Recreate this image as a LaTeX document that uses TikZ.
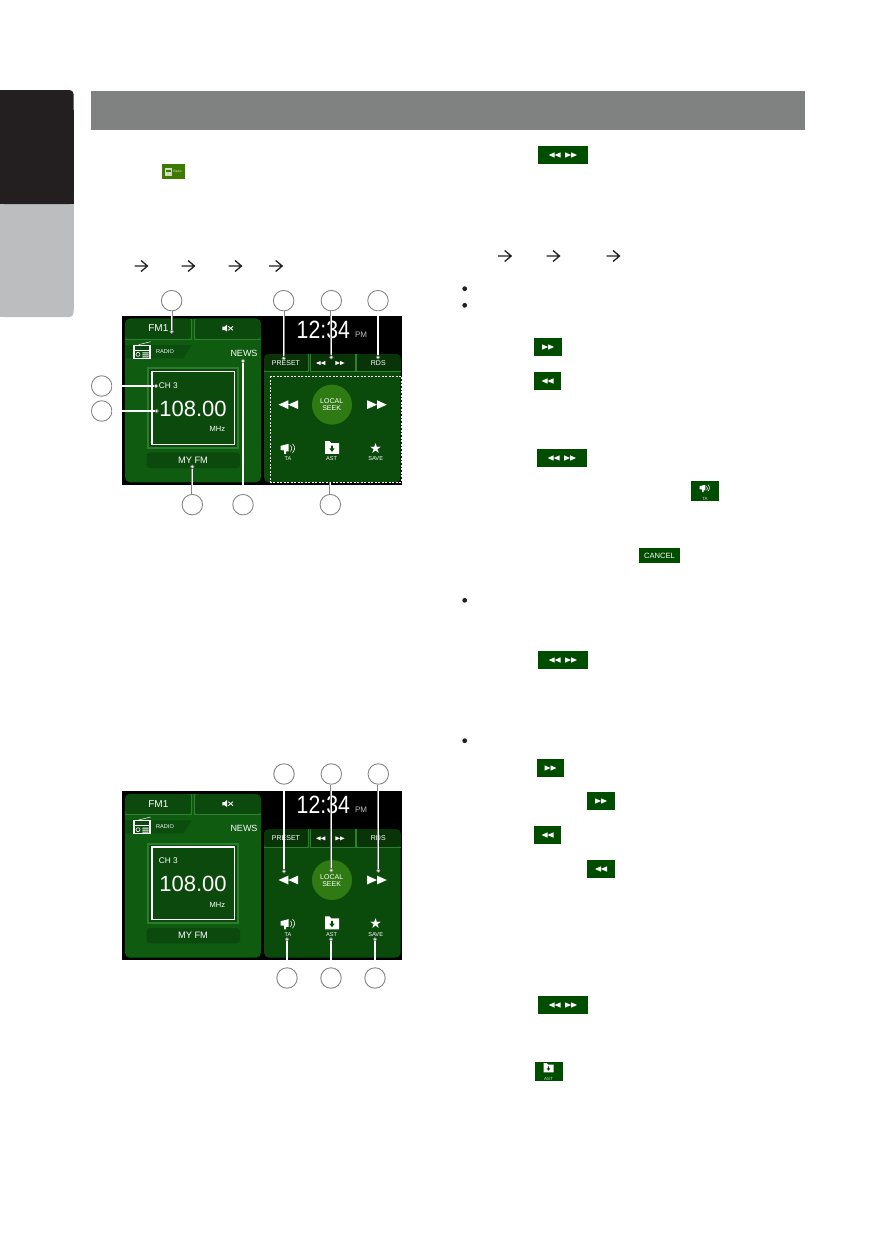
\documentclass[tikz,border=0pt]{standalone}
\usepackage{fontspec}
\setmainfont{Liberation Sans}
\usetikzlibrary{calc}
\definecolor{tabblack}{HTML}{231F20}
\definecolor{tabgray}{HTML}{BCBDBF}
\definecolor{headgray}{HTML}{808282}
\definecolor{panelL}{HTML}{0F5C10}
\definecolor{panelR}{HTML}{0A4A0B}
\definecolor{tabdark}{HTML}{0B4A0C}
\definecolor{barline}{HTML}{2E7F30}
\definecolor{btngreen}{HTML}{004D00}
\definecolor{seekgreen}{HTML}{2F7A12}
\definecolor{frameg}{HTML}{2A7D2A}
\definecolor{radiobtn}{HTML}{3F7A00}
\definecolor{leadgray}{HTML}{858585}
\tikzset{
  callout/.style={circle,draw=leadgray,fill=white,line width=.9pt,minimum size=20.5pt,inner sep=0pt},
  leaddot/.style={circle,draw=leadgray,fill=white,line width=.6pt,minimum size=3.5pt,inner sep=0pt},
  lead/.style={draw=leadgray,line width=.55pt,double=white,double distance=1.1pt},
  gbutton/.style={fill=btngreen,inner sep=0pt,text=white},
  scrtext/.style={text=white,inner sep=0pt},
  pagearrow/.style={draw=tabblack,line width=1.3pt},
}
% transport icons: centre x, centre y, half width in pt
\newcommand\rewicon[3]{\begin{scope}[shift={(#1,#2)},x=#3pt,y=#3pt]
  \fill[white] (-1,0)--(0,.45)--(0,-.45)--cycle (0,0)--(1,.45)--(1,-.45)--cycle;\end{scope}}
\newcommand\ffwicon[3]{\begin{scope}[shift={(#1,#2)},x=#3pt,y=#3pt]
  \fill[white] (1,0)--(0,.45)--(0,-.45)--cycle (0,0)--(-1,.45)--(-1,-.45)--cycle;\end{scope}}
% megaphone with waves; centre, unit in pt
\newcommand\taicon[3]{\begin{scope}[shift={(#1,#2)},x=#3pt,y=-#3pt]
  \fill[white] (-1.1,-.35)--(.05,-.65)--(.05,.45)--(-.3,.45)--(-.3,.8)--(-.6,.8)--(-.6,.3)--(-1.1,.25)--cycle;
  \draw[white,line width=.55pt] (.3,-.4) arc (-50:50:.55);
  \draw[white,line width=.55pt] (.6,-.65) arc (-50:50:.85);\end{scope}}
% folder with down arrow
\newcommand\asticon[3]{\begin{scope}[shift={(#1,#2)},x=#3pt,y=-#3pt]
  \fill[white] (-1,-1)--(-.35,-1)--(-.1,-.7)--(1,-.7)--(1,.85)--(-1,.85)--cycle;
  \fill[btngreen] (-.13,-.35)--(.13,-.35)--(.13,.05)--(.38,.05)--(0,.55)--(-.38,.05)--(-.13,.05)--cycle;\end{scope}}
% one radio screen, drawn in the unit of the zoomed crop
\newcommand\radioscreen[3]{%
\begin{scope}[shift={(#1,#2)},x=.33333pt,y=-.33333pt,name prefix=#3-]
  \fill[black] (187,108) rectangle (1027,615);
  \fill[panelL,rounded corners=5pt] (195,116) rectangle (603,607);
  \fill[tabdark,rounded corners=5pt] (195,116)--(395,116)--(395,177)--(195,177)--cycle;
  \fill[tabdark,rounded corners=5pt] (403,116)--(603,116)--(603,177)--(403,177)--cycle;
  \draw[barline,line width=.7pt] (195,177)--(395,177)--(395,116) (603,177)--(403,177)--(403,116);
  \fill[tabdark,opacity=.8] (197,195)--(395,195)--(370,235)--(197,235)--cycle;
  % radio icon
  \fill[white] (220,194) rectangle (272,237);
  \fill[tabdark] (224,198) rectangle (268,210);
  \fill[tabdark] (224,213) rectangle (268,233);
  \draw[white,line width=.6pt] (234,223) circle (6);
  \fill[white] (247,217) rectangle (266,220) (247,223) rectangle (266,226) (247,229) rectangle (266,232);
  \draw[white,line width=.5pt] (236,194)--(272,185);
  \node[scrtext,font=\fontsize{5.6}{6}\selectfont] (radio) at (315,214) {RADIO};
  \node[scrtext,font=\fontsize{10}{10}\selectfont] (fm) at (295,145) {FM1};
  % mute icon
  \fill[white] (487,140)--(494,140)--(501,134)--(501,155)--(494,150)--(487,150)--cycle;
  \draw[white,line width=.8pt] (505,139)--(519,151) (519,139)--(505,151);
  \node[scrtext,font=\fontsize{9}{9}\selectfont] (news) at (552,219) {NEWS};
  % frequency box
  \fill[frameg] (262,262) rectangle (536,506);
  \fill[tabdark] (268,268) rectangle (530,500);
  \draw[white,line width=1.6pt,fill=tabdark] (276,275) rectangle (523,493);
  \node[scrtext,font=\fontsize{8.3}{9}\selectfont] (ch) at (325,316) {CH 3};
  \node[scrtext,font=\fontsize{22}{22}\selectfont] (freq) at (399,386) {108.00};
  \node[scrtext,font=\fontsize{7.5}{8}\selectfont] (mhz) at (472,448) {MHz};
  \fill[tabdark,rounded corners=3pt] (260,518) rectangle (540,564);
  \node[scrtext,font=\fontsize{9.3}{10}\selectfont] (myfm) at (399,541) {MY FM};
  % right panel
  \fill[panelR,rounded corners=5pt] (612,222) rectangle (1022,607);
  \fill[tabdark!70!black,rounded corners=4pt] (612,275)--(612,222)--(745,222)--(745,275)--cycle;
  \fill[tabdark!70!black] (751,222) rectangle (885,275);
  \fill[tabdark!70!black,rounded corners=4pt] (889,275)--(889,222)--(1022,222)--(1022,275)--cycle;
  \draw[barline,line width=.7pt] (612,275)--(745,275)--(745,222) (885,222)--(885,275)--(751,275)--(751,222) (889,222)--(889,275)--(1022,275);
  \node[scrtext,font=\fontsize{7}{7}\selectfont] (preset) at (678,249) {PRESET};
  \rewicon{782}{249}{4.6}
  \ffwicon{840}{249}{4.6}
  \node[scrtext,font=\fontsize{7}{7}\selectfont] (rds) at (955,249) {RDS};
  \node[text=white,inner sep=0pt,font=\fontsize{25}{25}\selectfont] (clock) at (790,150) {\scalebox{.85}[1]{12:34}};
  \node[text=white!75!black,inner sep=0pt,font=\fontsize{8}{8}\selectfont] (pm) at (903,163) {PM};
  \fill[seekgreen] (816,374) circle (60);
  \node[scrtext,font=\fontsize{7}{7}\selectfont,align=center] (seek) at (815,375) {LOCAL\\SEEK};
  \rewicon{685}{374}{9.8}
  \ffwicon{951}{374}{9.8}
  \taicon{685}{505}{7}
  \node[scrtext,font=\fontsize{5.5}{6}\selectfont] (ta) at (684,537) {TA};
  \asticon{816}{504}{7}
  \node[scrtext,font=\fontsize{5.6}{6}\selectfont] (ast) at (815,537) {AST};
  \node[scrtext,font=\fontsize{14}{14}\selectfont] (star) at (947,505) {\fontspec{DejaVu Sans}★};
  \node[scrtext,font=\fontsize{5.7}{6}\selectfont] (save) at (947,537) {SAVE};
\end{scope}}
\begin{document}
\begin{tikzpicture}[x=1pt,y=-1pt]
\useasboundingbox (0,0) rectangle (896,1247);
% side tab and header bar
\fill[tabgray,rounded corners=4pt] (0,200)--(73.5,200)--(73.5,317)--(0,317)--cycle;
\fill[tabgray] (0,200) rectangle (73.5,310);
\fill[tabgray] (0,300) rectangle (30,317);
\fill[tabblack,rounded corners=4pt] (0,90)--(73.5,90)--(73.5,204)--(0,204)--cycle;
\fill[tabblack] (0,110) rectangle (73.5,204);
\fill[tabblack] (0,90) rectangle (30,110);
\fill[headgray] (91,91) rectangle (805,130);
% first radio screen
\radioscreen{60}{280}{a}
\begin{scope}[shift={(60,280)},x=.33333pt,y=-.33333pt]
  \draw[white,line width=.8pt,dashed,dash pattern=on 2pt off 1.5pt] (631,289) rectangle (1025,606);
  \node[callout] (c1) at (335,62) {};
  \node[callout] (c2) at (671,62) {};
  \node[callout] (c3) at (814,62) {};
  \node[callout] (c4) at (954,62) {};
  \node[callout] (c5) at (125,318) {};
  \node[callout] (c6) at (125,393) {};
  \node[callout] (c7) at (397,674) {};
  \node[callout] (c8) at (549,674) {};
  \node[callout] (c9) at (811,674) {};
  \node[leaddot] (d1) at (335,155) {};
  \node[leaddot] (d2) at (671,235) {};
  \node[leaddot] (d3) at (814,232) {};
  \node[leaddot] (d4) at (954,232) {};
  \node[leaddot] (d5) at (288,318) {};
  \node[leaddot] (d6) at (290,393) {};
  \node[leaddot] (d7) at (397,560) {};
  \node[leaddot] (d8) at (549,243) {};
  \coordinate (d9) at (811,607);
  \foreach \i in {1,...,9} \draw[lead] (c\i) -- (d\i);
\end{scope}
% second radio screen
\radioscreen{60}{755.33}{b}
\begin{scope}[shift={(60,750)},x=.33333pt,y=-.33333pt]
  \node[callout] (e1) at (672,72) {};
  \node[callout] (e2) at (814,72) {};
  \node[callout] (e3) at (955,72) {};
  \node[callout] (e4) at (681,684) {};
  \node[callout] (e5) at (813,684) {};
  \node[callout] (e6) at (945,684) {};
  \node[leaddot] (f1) at (672,364) {};
  \node[leaddot] (f2) at (814,361) {};
  \node[leaddot] (f3) at (955,362) {};
  \node[leaddot] (f4) at (681,568) {};
  \node[leaddot] (f5) at (813,568) {};
  \node[leaddot] (f6) at (945,568) {};
  \foreach \i in {1,...,6} \draw[lead] (e\i) -- (f\i);
\end{scope}
% radio button in the text
\node[fill=radiobtn,inner sep=0pt,minimum width=23pt,minimum height=15pt] (rb) at (173.5,171.5) {};
\fill[white!75!radiobtn] (164.7,168) rectangle (172,176);
\fill[radiobtn] (166,169.5) rectangle (170.7,172);
\node[text=white!80!radiobtn,inner sep=0pt,font=\fontsize{3.2}{3}\selectfont] (rbt) at (177.5,171.5) {Radio};
% double arrow buttons
\foreach \nm/\x/\y in {g1/563/155, g2/562/458, g3/563/660, g4/563/1005}{
  \node[gbutton,minimum width=50pt,minimum height=18pt] (\nm) at (\x,\y) {};
  \rewicon{\x-8.3}{\y}{6}
  \ffwicon{\x+8}{\y}{6}
}
% forward buttons
\foreach \nm/\x/\y/\w in {g5/548/347/28, g6/550.5/768/27, g7/601/801/28}{
  \node[gbutton,minimum width=\w pt,minimum height=18pt] (\nm) at (\x,\y) {};
  \ffwicon{\x}{\y}{6}
}
% rewind buttons
\foreach \nm/\x/\y/\w in {g8/547.5/381/27, g9/547.5/835/27, g10/601/869/28}{
  \node[gbutton,minimum width=\w pt,minimum height=18pt] (\nm) at (\x,\y) {};
  \rewicon{\x}{\y}{6}
}
\node[gbutton,minimum width=28pt,minimum height=20pt] (gta) at (705,491) {};
\taicon{705}{488}{5}
\node[text=white!80!btngreen,inner sep=0pt,font=\fontsize{4.5}{5}\selectfont] (gtat) at (705,498.5) {TA};
\node[gbutton,minimum width=41pt,minimum height=15pt,font=\fontsize{7.6}{7.6}\selectfont] (gc) at (659.5,555.5) {CANCEL};
\node[gbutton,minimum width=28pt,minimum height=19pt] (ga) at (549,1071.5) {};
\asticon{548.5}{1068}{5}
\node[text=white!80!btngreen,inner sep=0pt,font=\fontsize{4.5}{5}\selectfont] (gat) at (548.5,1078.5) {AST};
% arrows of the text
\foreach \x/\y in {141/266,188/266,235/266,275.7/266,504.7/256,553/256,613/256}{
  \draw[pagearrow] (\x-6.5,\y)--(\x+6,\y) (\x,\y-5.5)--(\x+6.5,\y)--(\x,\y+5.5);
}
% bullets
\foreach \y in {288.7,305.3,600.3,740.7} \fill[tabblack] (464.7,\y) circle (2.4pt);
\end{tikzpicture}
\end{document}
